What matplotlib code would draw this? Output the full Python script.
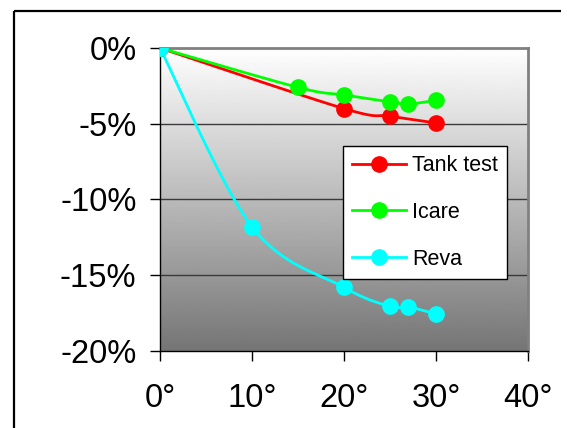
import numpy as np
import matplotlib.pyplot as plt
from matplotlib.lines import Line2D

plt.rcParams['font.family'] = ['Liberation Sans', 'DejaVu Sans']

# data (angle in degrees, change in %)
tank_x = [0, 20, 25, 30]
tank_y = [0, -4.0, -4.5, -4.95]
icare_x = [0, 15, 20, 25, 27, 30]
icare_y = [0, -2.6, -3.1, -3.55, -3.7, -3.45]
reva_x = [0, 10, 20, 25, 27, 30]
reva_y = [0, -11.8, -15.8, -17.05, -17.1, -17.55]

x_ticks = [0, 10, 20, 30, 40]
y_ticks = [0, -5, -10, -15, -20]


def smooth(xs, ys, n=40):
    # excel-like smoothed line: bezier segments with catmull-rom control points
    p = np.column_stack([xs, ys]).astype(float)
    out = []
    for i in range(len(p) - 1):
        p0 = p[i - 1] if i > 0 else p[i]
        p1, p2 = p[i], p[i + 1]
        p3 = p[i + 2] if i + 2 < len(p) else p[i + 1]
        c1 = p1 + (p2 - p0) / 6
        c2 = p2 - (p3 - p1) / 6
        t = np.linspace(0, 1, n)[:, None]
        seg = ((1 - t) ** 3) * p1 + 3 * ((1 - t) ** 2) * t * c1 + 3 * (1 - t) * t ** 2 * c2 + t ** 3 * p2
        out.append(seg)
    out = np.vstack(out)
    return out[:, 0], out[:, 1]


fig = plt.figure(figsize=(5.67, 4.28), dpi=100)
ax = fig.add_axes([160 / 567, 1 - 351 / 428, 368 / 567, 303 / 428])

# outer black frame, only the left and top edges are inside the picture
fx, fy = 14 / 567, 1 - 11 / 428
fig.add_artist(Line2D([fx, fx], [-0.01, fy], transform=fig.transFigure,
                      color='black', linewidth=1.6, solid_capstyle='butt'))
fig.add_artist(Line2D([fx, 0.99], [fy, fy], transform=fig.transFigure,
                      color='black', linewidth=1.6, solid_capstyle='butt'))

# grey gradient background
grad = np.linspace(1.0, 0.46, 256)[:, None]
ax.imshow(grad, cmap='gray', vmin=0, vmax=1, aspect='auto',
          extent=[0, 40, -20, 0], zorder=0)

for y in [-5, -10, -15]:
    ax.axhline(y, color='#3a3a3a', linewidth=1.0, zorder=1)

series = [
    ('Tank test', tank_x, tank_y, '#ff0000'),
    ('Icare', icare_x, icare_y, '#00ff00'),
    ('Reva', reva_x, reva_y, '#00ffff'),
]
for label, xs, ys, col in series:
    sx, sy = smooth(xs, ys)
    ax.plot(sx, sy, color=col, linewidth=2, zorder=3)
    ax.plot(xs, ys, 'o', color=col, markersize=11, zorder=4)
    ax.plot([], [], '-o', color=col, linewidth=2, markersize=11, label=label)

ax.set_xlim(0, 40)
ax.set_ylim(-20, 0)
ax.set_xticks(x_ticks)
ax.set_xticklabels([f'{v}°' for v in x_ticks])
ax.set_yticks(y_ticks)
ax.set_yticklabels([f'{v}%' for v in y_ticks])
ax.tick_params(axis='both', labelsize=23.5, length=7, width=1, direction='out')
ax.tick_params(axis='y', pad=10)
ax.tick_params(axis='x', pad=16)

for s in ['top', 'right']:
    ax.spines[s].set_color('#808080')
    ax.spines[s].set_linewidth(2)
for s in ['left', 'bottom']:
    ax.spines[s].set_color('black')
    ax.spines[s].set_linewidth(1)

leg = ax.legend(loc='upper left', bbox_to_anchor=(183 / 368, 1 - 98 / 303),
                fontsize=15.5, frameon=True, fancybox=False, framealpha=1,
                edgecolor='black', handlelength=2.5, handletextpad=0.3,
                labelspacing=1.2, borderpad=0.42, borderaxespad=0)
leg.get_frame().set_linewidth(1)
leg.set_zorder(5)

fig.savefig('out.png', dpi=100)
